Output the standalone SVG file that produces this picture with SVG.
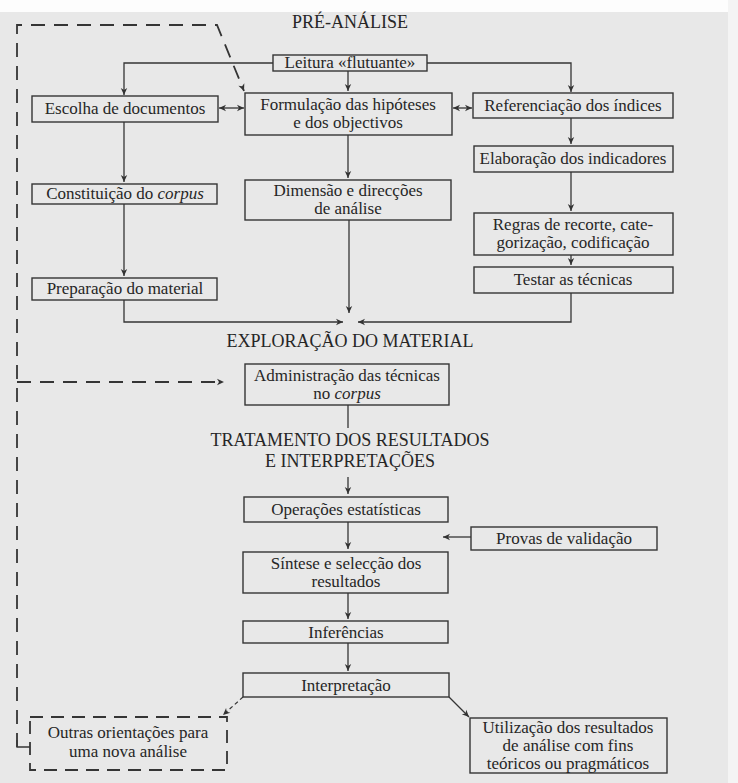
<svg xmlns="http://www.w3.org/2000/svg" width="738" height="783" viewBox="0 0 738 783">
<style>
  text { font-family: "Liberation Serif", "Times New Roman", serif; fill: #262626; }
  .t { font-size: 17px; }
  .h { font-size: 18px; }
  .box { fill: none; stroke: #353535; stroke-width: 1.4; }
  .dbox { fill: none; stroke: #353535; stroke-width: 1.8; stroke-dasharray: 13 8; }
  .c { fill: none; stroke: #353535; stroke-width: 1.3; }
  .cd { fill: none; stroke: #353535; stroke-width: 1.8; stroke-dasharray: 14 9; }
  .cs { fill: none; stroke: #353535; stroke-width: 1.2; stroke-dasharray: 4 3; }
</style>
<defs>
  <marker id="ah" viewBox="-8 -4 9 8" refX="0" refY="0" markerWidth="9" markerHeight="8" markerUnits="userSpaceOnUse" orient="auto-start-reverse">
    <path d="M0,0 L-7,-3.2 L-5,0 L-7,3.2 Z" fill="#333"/>
  </marker>
</defs>
<rect x="0" y="0" width="738" height="783" fill="#e8e8e8"/>
<rect x="0" y="0" width="738" height="12" fill="#fdfdfd"/>
<rect x="728" y="0" width="10" height="783" fill="#f4f4f4"/>

<g id="headers">
  <text class="h" x="350" y="28" text-anchor="middle" font-size="19.5">PRÉ-ANÁLISE</text>
  <text class="h" x="350" y="347" text-anchor="middle">EXPLORAÇÃO DO MATERIAL</text>
  <text class="h" x="350" y="446" text-anchor="middle">TRATAMENTO DOS RESULTADOS</text>
  <text class="h" x="350" y="467" text-anchor="middle">E INTERPRETAÇÕES</text>
</g>

<g id="leitura">
  <rect class="box" x="273" y="55" width="154" height="16"/>
  <text class="t" x="350" y="68" text-anchor="middle">Leitura «flutuante»</text>
</g>
<g id="escolha">
  <rect class="box" x="32" y="96" width="186" height="26"/>
  <text class="t" x="125" y="114" text-anchor="middle">Escolha de documentos</text>
</g>
<g id="formulacao">
  <rect class="box" x="245" y="93" width="207" height="42"/>
  <text class="t" x="348" y="110" text-anchor="middle">Formulação das hipóteses</text>
  <text class="t" x="348" y="128" text-anchor="middle">e dos objectivos</text>
</g>
<g id="referenciacao">
  <rect class="box" x="473" y="93" width="200" height="25"/>
  <text class="t" x="573" y="111" text-anchor="middle">Referenciação dos índices</text>
</g>
<g id="elaboracao">
  <rect class="box" x="474" y="146" width="199" height="26"/>
  <text class="t" x="573" y="164" text-anchor="middle">Elaboração dos indicadores</text>
</g>
<g id="constituicao">
  <rect class="box" x="32" y="184" width="185" height="20"/>
  <text class="t" x="125" y="199" text-anchor="middle">Constituição do <tspan font-style="italic">corpus</tspan></text>
</g>
<g id="dimensao">
  <rect class="box" x="245" y="180" width="206" height="40"/>
  <text class="t" x="348" y="196" text-anchor="middle">Dimensão e direcções</text>
  <text class="t" x="348" y="214" text-anchor="middle">de análise</text>
</g>
<g id="regras">
  <rect class="box" x="474" y="213" width="199" height="42"/>
  <text class="t" x="573" y="230" text-anchor="middle">Regras de recorte, cate-</text>
  <text class="t" x="573" y="248" text-anchor="middle">gorização, codificação</text>
</g>
<g id="preparacao">
  <rect class="box" x="32" y="278" width="185" height="22"/>
  <text class="t" x="125" y="294" text-anchor="middle">Preparação do material</text>
</g>
<g id="testar">
  <rect class="box" x="474" y="267" width="199" height="26"/>
  <text class="t" x="573" y="285" text-anchor="middle">Testar as técnicas</text>
</g>
<g id="administracao">
  <rect class="box" x="245" y="364" width="204" height="41"/>
  <text class="t" x="347" y="381" text-anchor="middle">Administração das técnicas</text>
  <text class="t" x="347" y="399" text-anchor="middle">no <tspan font-style="italic">corpus</tspan></text>
</g>
<g id="operacoes">
  <rect class="box" x="244" y="497" width="204" height="25"/>
  <text class="t" x="346" y="515" text-anchor="middle">Operações estatísticas</text>
</g>
<g id="provas">
  <rect class="box" x="471" y="527" width="186" height="23"/>
  <text class="t" x="564" y="544" text-anchor="middle">Provas de validação</text>
</g>
<g id="sintese">
  <rect class="box" x="243" y="552" width="205" height="41"/>
  <text class="t" x="346" y="569" text-anchor="middle">Síntese e selecção dos</text>
  <text class="t" x="346" y="587" text-anchor="middle">resultados</text>
</g>
<g id="inferencias">
  <rect class="box" x="243" y="621" width="205" height="22"/>
  <text class="t" x="346" y="638" text-anchor="middle">Inferências</text>
</g>
<g id="interpretacao">
  <rect class="box" x="243" y="673" width="206" height="24"/>
  <text class="t" x="346" y="691" text-anchor="middle">Interpretação</text>
</g>
<g id="outras">
  <rect class="dbox" x="30" y="717" width="197" height="53"/>
  <text class="t" x="128" y="738" text-anchor="middle">Outras orientações para</text>
  <text class="t" x="128" y="757" text-anchor="middle">uma nova análise</text>
</g>
<g id="utilizacao">
  <rect class="box" x="470" y="718" width="197" height="55"/>
  <text class="t" x="568" y="733" text-anchor="middle" font-size="16.5">Utilização dos resultados</text>
  <text class="t" x="568" y="751" text-anchor="middle" font-size="16.5">de análise com fins</text>
  <text class="t" x="568" y="769" text-anchor="middle" font-size="16.5">teóricos ou pragmáticos</text>
</g>

<g id="connectors">
  <path class="c" d="M273,63 H124 V95" marker-end="url(#ah)"/>
  <path class="c" d="M427,63 H571 V92" marker-end="url(#ah)"/>
  <path class="c" d="M348,71 V91" marker-end="url(#ah)"/>
  <path class="c" d="M219,108 H244" marker-start="url(#ah)" marker-end="url(#ah)"/>
  <path class="c" d="M453,108 H472" marker-start="url(#ah)" marker-end="url(#ah)"/>
  <path class="c" d="M571,118 V144" marker-end="url(#ah)"/>
  <path class="c" d="M571,172 V211" marker-end="url(#ah)"/>
  <path class="c" d="M571,255 V265" marker-end="url(#ah)"/>
  <path class="c" d="M571,293 V322 H358" marker-end="url(#ah)"/>
  <path class="c" d="M124,122 V182" marker-end="url(#ah)"/>
  <path class="c" d="M124,204 V276" marker-end="url(#ah)"/>
  <path class="c" d="M124,300 V322 H343" marker-end="url(#ah)"/>
  <path class="c" d="M348,135 V178" marker-end="url(#ah)"/>
  <path class="c" d="M349,220 V313" marker-end="url(#ah)"/>
  <path class="c" d="M348,405 V428"/>
  <path class="c" d="M348,477 V494" marker-end="url(#ah)"/>
  <path class="c" d="M348,522 V549" marker-end="url(#ah)"/>
  <path class="c" d="M471,537 H443" marker-end="url(#ah)"/>
  <path class="c" d="M348,593 V619" marker-end="url(#ah)"/>
  <path class="c" d="M348,643 V671" marker-end="url(#ah)"/>
  <path class="cs" d="M243,697 L223,715" marker-end="url(#ah)"/>
  <path class="c" d="M449,697 L469,717" marker-end="url(#ah)"/>
  <path class="cd" d="M17,747 V25 H217 L244,91" marker-end="url(#ah)"/>
  <path class="c" d="M17,740 V747 H30" stroke-width="1.8"/>
  <path class="cd" d="M17,382 H224" marker-end="url(#ah)"/>
</g>
</svg>
